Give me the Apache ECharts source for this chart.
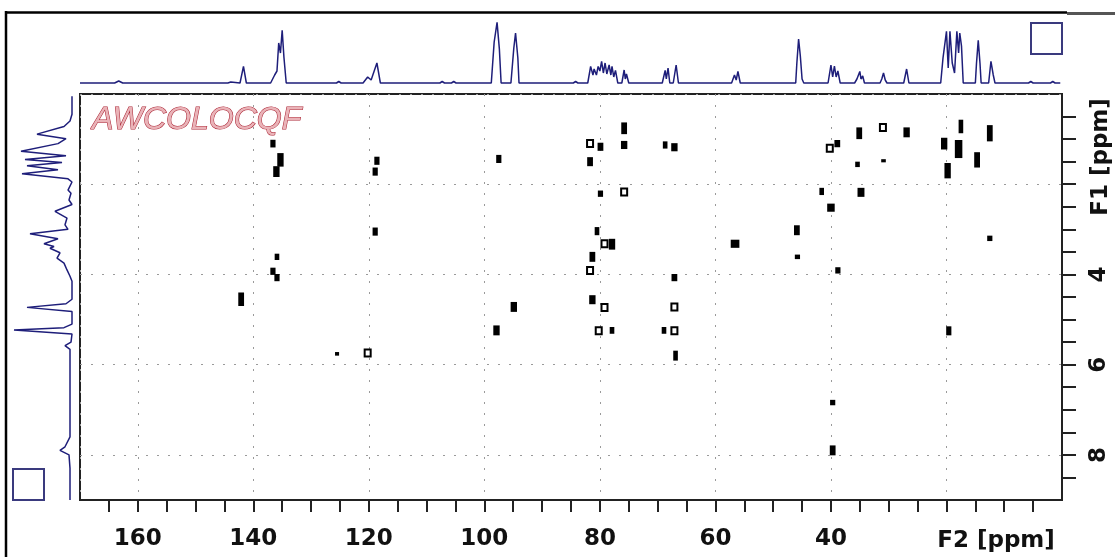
<!DOCTYPE html>
<html>
<head>
<meta charset="utf-8">
<script src="https://cdn.jsdelivr.net/npm/echarts@6/dist/echarts.min.js"></script>
<style>
  html, body { margin: 0; padding: 0; background: #fff; }
  #chart { width: 1115px; height: 557px; }
</style>
</head>
<body>
<div id="chart"></div>
<script>
// axis ticks / labels (ppm)
const f2Ticks = [5, 10, 15, 20, 25, 30, 35, 40, 45, 50, 55, 60, 65, 70, 75, 80, 85,
  90, 95, 100, 105, 110, 115, 120, 125, 130, 135, 140, 145, 150, 155, 160, 165]
const f2Labels = [40, 60, 80, 100, 120, 140, 160]
const f1Ticks = [0.5, 1, 1.5, 2, 2.5, 3, 3.5, 4, 4.5, 5, 5.5, 6, 6.5, 7, 7.5, 8, 8.5]
const f1Labels = [4, 6, 8]

// cross peaks: [F2 ppm, F1 ppm, F2 extent, F1 extent]
const filledPeaks = [
  [136.6, 1.10, 0.9, 0.17], [135.3, 1.46, 1.1, 0.30], [136.0, 1.72, 1.1, 0.24],
  [118.6, 1.48, 0.9, 0.18], [118.9, 1.72, 0.9, 0.18], [97.5, 1.44, 0.9, 0.18],
  [118.9, 3.05, 0.9, 0.18], [135.9, 3.61, 0.8, 0.14], [136.6, 3.93, 0.9, 0.16],
  [135.9, 4.07, 0.9, 0.16], [142.1, 4.55, 1.0, 0.30], [94.9, 4.72, 1.1, 0.22],
  [97.9, 5.24, 1.1, 0.22], [125.5, 5.76, 0.7, 0.08],
  [79.9, 1.17, 1.0, 0.18], [75.8, 0.76, 1.0, 0.26], [75.8, 1.13, 1.1, 0.18],
  [68.7, 1.13, 0.8, 0.16], [67.1, 1.18, 1.1, 0.18], [81.7, 1.50, 1.0, 0.20],
  [79.9, 2.21, 0.9, 0.14], [80.5, 3.04, 0.8, 0.18], [77.9, 3.33, 1.1, 0.24],
  [81.3, 3.61, 1.0, 0.22], [67.1, 4.07, 1.0, 0.16], [56.6, 3.32, 1.5, 0.18],
  [81.3, 4.56, 1.1, 0.20], [77.9, 5.24, 0.8, 0.15], [68.9, 5.24, 0.8, 0.15],
  [66.9, 5.80, 0.8, 0.22], [39.7, 6.84, 0.9, 0.12], [39.7, 7.90, 1.0, 0.22],
  [19.6, 5.25, 0.9, 0.20], [38.9, 1.10, 1.0, 0.16], [35.1, 0.87, 1.0, 0.26],
  [26.9, 0.85, 1.1, 0.22], [35.4, 1.56, 0.8, 0.12], [30.9, 1.48, 0.8, 0.07],
  [20.4, 1.10, 1.1, 0.26], [17.9, 1.22, 1.3, 0.40], [17.5, 0.72, 0.8, 0.30],
  [12.5, 0.87, 1.0, 0.36], [14.7, 1.46, 1.0, 0.34], [19.8, 1.70, 1.1, 0.34],
  [41.6, 2.16, 0.8, 0.16], [34.8, 2.18, 1.2, 0.20], [40.0, 2.52, 1.3, 0.18],
  [45.9, 3.02, 1.0, 0.22], [45.8, 3.61, 0.9, 0.10], [38.8, 3.91, 0.9, 0.14],
  [12.5, 3.20, 0.9, 0.12]
]
// open (hollow) cross peaks: [F2 ppm, F1 ppm]
const hollowPeaks = [
  [81.7, 1.10], [75.8, 2.17], [79.2, 3.32], [81.7, 3.91], [79.2, 4.73],
  [67.1, 4.72], [67.1, 5.25], [80.2, 5.25], [120.2, 5.74], [31.0, 0.74], [40.2, 1.20]
]

// F2 projection (top): [ppm, intensity]
const f2Trace = [
  [170, 0], [164, 0], [163.3, 2], [162.6, 0],
  [144.4, 0], [143.9, 1], [142.3, 0], [141.7, 16.6], [141.2, 0],
  [137, 0], [136.3, 8], [135.9, 12], [135.6, 40], [135.3, 30], [135.0, 52.6], [134.7, 26], [134.3, 0],
  [125.6, 0], [125.2, 1.5], [124.8, 0],
  [121, 0], [120.2, 6], [119.6, 3], [118.6, 20], [118.0, 0],
  [107.7, 0], [107.3, 1.5], [106.9, 0], [105.7, 0], [105.3, 1.5], [104.9, 0],
  [98.8, 0], [98.3, 41], [97.8, 60.6], [97.4, 34], [97.1, 0],
  [95.4, 0], [94.9, 35], [94.6, 50], [94.2, 25], [94.0, 0],
  [84.6, 0], [84.2, 1.5], [83.8, 0],
  [82.1, 0], [81.6, 16.6], [81.2, 8], [81.0, 14], [80.6, 8], [80.3, 16.6], [80.0, 12],
  [79.7, 21.6], [79.4, 10], [79.1, 20], [78.8, 9], [78.4, 18], [78.1, 8], [77.9, 16.6],
  [77.6, 6], [77.3, 12.6], [76.9, 0], [76.2, 0], [75.8, 13], [75.6, 4], [75.4, 9], [75.0, 0],
  [69.2, 0], [68.7, 12.6], [68.5, 4], [68.2, 15], [67.9, 0], [67.3, 0], [66.8, 18], [66.4, 0],
  [57.2, 0], [56.7, 8], [56.4, 3], [56.1, 11.6], [55.7, 0],
  [46.1, 0], [45.9, 20], [45.6, 44], [45.3, 27], [45.0, 4], [44.7, 0],
  [43.5, 0], [43.2, 1.5], [42.9, 0],
  [40.5, 0], [40.0, 18], [39.7, 6], [39.4, 17], [39.1, 6], [38.8, 12], [38.4, 0],
  [36.5, 0], [36.2, 2], [35.9, 0], [35.5, 4], [35.0, 11.6], [34.8, 4], [34.5, 7], [34.2, 0],
  [31.5, 0], [31.2, 4], [30.9, 10], [30.6, 3], [30.3, 0],
  [27.4, 0], [26.9, 14], [26.5, 0],
  [21.0, 0], [20.6, 25], [20.0, 51.6], [19.7, 15], [19.4, 51.6], [19.0, 20], [18.6, 10],
  [18.2, 51.6], [17.9, 30], [17.7, 50], [17.4, 37], [17.1, 0],
  [15.0, 0], [14.8, 20], [14.5, 42.6], [14.2, 20], [14.0, 0],
  [12.7, 0], [12.3, 21.6], [11.9, 8], [11.6, 0],
  [5.8, 0], [5.4, 1.5], [5.0, 0], [2.0, 0], [1.6, 1.5], [1.2, 0], [0.3, 0]
]

// F1 projection (left): [ppm, intensity]
const f1Trace = [
  [0.05, 0], [0.45, 0], [0.6, 2], [0.72, 8], [0.89, 35], [0.99, 6], [1.1, 14], [1.27, 51],
  [1.37, 6], [1.45, 47], [1.52, 10], [1.59, 45], [1.68, 14], [1.77, 50], [1.88, 4], [1.95, 0],
  [2.13, 4], [2.2, 1], [2.35, 3], [2.45, 0], [2.6, 17], [2.75, 5], [2.9, 7], [3.0, 4],
  [3.1, 42], [3.21, 14], [3.32, 28], [3.38, 18], [3.42, 22], [3.52, 12], [3.64, 15],
  [3.75, 8], [3.9, 5], [4.04, 2], [4.15, 0], [4.55, 0], [4.65, 6], [4.73, 45], [4.82, 0],
  [5.1, 0], [5.18, 8], [5.23, 58], [5.32, 0], [5.5, 1], [5.58, 7], [5.66, 2], [6.0, 2],
  [6.5, 2], [7.0, 2], [7.6, 2], [7.82, 7], [7.9, 12], [8.0, 3], [8.3, 2], [9.0, 2]
]

const ink = '#111'
const traceColor = '#1e1e7a'
const gridDots = { type: [2, 9], color: '#9a9a9a', width: 1 }

const chart = echarts.init(document.getElementById('chart'))

chart.setOption({
  backgroundColor: '#fff',
  animation: false,
  grid: [
    { left: 80, right: 53, top: 94, bottom: 57, show: true, borderColor: '#222', borderWidth: 2 },
    { left: 80, right: 53, top: 11, height: 72 },
    { left: 10, width: 62, top: 94, height: 406 }
  ],
  xAxis: [
    {
      gridIndex: 0, type: 'value', min: 0, max: 170, interval: 20, inverse: true,
      axisLine: { show: true, onZero: false, lineStyle: { color: '#222', width: 2 } },
      axisTick: { show: true, customValues: f2Ticks, length: 12, lineStyle: { color: '#222', width: 2 } },
      axisLabel: {
        customValues: f2Labels, margin: 28, color: ink,
        fontFamily: 'DejaVu Sans', fontWeight: 'bold', fontSize: 23
      },
      splitLine: { show: false }
    },
    { gridIndex: 1, type: 'value', min: 0, max: 170, inverse: true, show: false },
    { gridIndex: 2, type: 'value', min: 0, max: 62, inverse: true, show: false },
    {
      // dotted grid every 20 ppm
      gridIndex: 0, type: 'value', min: 0, max: 170, interval: 20, inverse: true, position: 'top',
      axisLine: { show: false }, axisTick: { show: false }, axisLabel: { show: false },
      splitLine: { show: true, lineStyle: gridDots }
    }
  ],
  yAxis: [
    {
      gridIndex: 0, type: 'value', min: 0, max: 9, interval: 2, inverse: true, position: 'right',
      axisLine: { show: true, onZero: false, lineStyle: { color: '#222', width: 2 } },
      axisTick: { show: true, customValues: f1Ticks, length: 14, lineStyle: { color: '#222', width: 2 } },
      axisLabel: {
        customValues: f1Labels, rotate: 90, margin: 26, color: ink,
        fontFamily: 'DejaVu Sans', fontWeight: 'bold', fontSize: 23
      },
      splitLine: { show: false }
    },
    { gridIndex: 1, type: 'value', min: 0, max: 72, show: false },
    { gridIndex: 2, type: 'value', min: 0, max: 9, inverse: true, show: false },
    {
      // dotted grid every 2 ppm
      gridIndex: 0, type: 'value', min: 0, max: 9, interval: 2, inverse: true, position: 'left',
      axisLine: { show: false }, axisTick: { show: false }, axisLabel: { show: false },
      splitLine: { show: true, lineStyle: gridDots }
    }
  ],
  series: [
    {
      type: 'custom', xAxisIndex: 0, yAxisIndex: 0, z: 5,
      data: filledPeaks,
      renderItem(params, api) {
        const p = api.coord([api.value(0), api.value(1)])
        const s = api.size([api.value(2), api.value(3)])
        return {
          type: 'rect',
          shape: { x: p[0] - s[0] / 2, y: p[1] - s[1] / 2, width: s[0], height: s[1] },
          style: { fill: '#000' }
        }
      }
    },
    {
      type: 'custom', xAxisIndex: 0, yAxisIndex: 0, z: 6,
      data: hollowPeaks,
      renderItem(params, api) {
        const p = api.coord([api.value(0), api.value(1)])
        return {
          type: 'rect',
          shape: { x: p[0] - 3, y: p[1] - 3.5, width: 6, height: 7 },
          style: { fill: '#fff', stroke: '#000', lineWidth: 2 }
        }
      }
    },
    {
      type: 'line', xAxisIndex: 1, yAxisIndex: 1, data: f2Trace,
      showSymbol: false, clip: false,
      lineStyle: { color: traceColor, width: 1.5 }
    },
    {
      type: 'line', xAxisIndex: 2, yAxisIndex: 2,
      data: f1Trace.map(d => [d[1], d[0]]),
      showSymbol: false, clip: false,
      lineStyle: { color: traceColor, width: 1.5 }
    }
  ],
  graphic: [
    // outer frame
    { type: 'line', shape: { x1: 6, y1: 12.5, x2: 1067, y2: 12.5 }, style: { stroke: '#000', lineWidth: 2.5 } },
    { type: 'line', shape: { x1: 1067, y1: 13.5, x2: 1115, y2: 13.5 }, style: { stroke: '#555', lineWidth: 3 } },
    { type: 'line', shape: { x1: 6, y1: 11, x2: 6, y2: 557 }, style: { stroke: '#000', lineWidth: 2.5 } },
    // projection boxes
    { type: 'rect', shape: { x: 1031, y: 23, width: 31, height: 31 }, style: { fill: 'none', stroke: '#3a3a7e', lineWidth: 2 } },
    { type: 'rect', shape: { x: 13, y: 469, width: 31, height: 31 }, style: { fill: 'none', stroke: '#3a3a7e', lineWidth: 2 } },
    // title
    {
      type: 'text', x: 92, y: 104, z: 10,
      style: {
        text: 'AWCOLOCQF', fontFamily: 'Liberation Sans', fontStyle: 'italic', fontSize: 32,
        fill: '#eab3b8', stroke: '#ab2636', lineWidth: 1.1
      }
    },
    // axis names
    {
      type: 'text', x: 996, y: 541,
      style: {
        text: 'F2 [ppm]', fontFamily: 'DejaVu Sans', fontWeight: 'bold', fontSize: 23,
        fill: ink, align: 'center', verticalAlign: 'middle'
      }
    },
    {
      type: 'text', x: 1101, y: 157, rotation: Math.PI / 2,
      style: {
        text: 'F1 [ppm]', fontFamily: 'DejaVu Sans', fontWeight: 'bold', fontSize: 23,
        fill: ink, align: 'center', verticalAlign: 'middle'
      }
    }
  ]
})
</script>
</body>
</html>
